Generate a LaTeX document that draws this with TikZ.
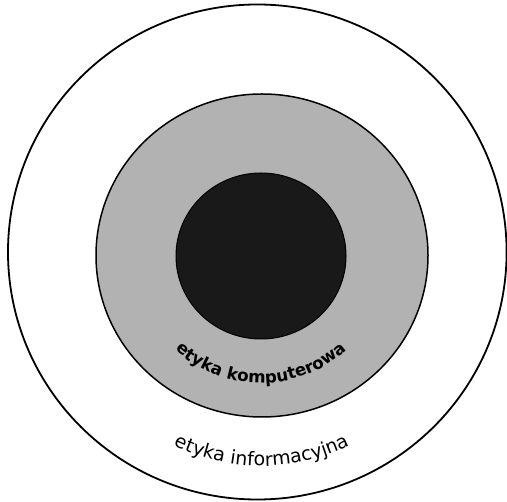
\documentclass[tikz,border=0pt]{standalone}
\usepackage{fontspec}
\newfontfamily\dvs{DejaVu Sans}
\usetikzlibrary{decorations.text}
\begin{document}
\begin{tikzpicture}[x=1bp,y=1bp,
  ring/.style={draw=black,line width=1.8bp},
  curvetext/.style={decorate,decoration={text along path,text align=center,text={#1}}}]
\useasboundingbox (0,0) rectangle (507,502);
% outer circle
\draw[ring,fill=white] (257.3,250) ellipse [x radius=249.3,y radius=247.5];
% middle circle
\draw[ring,line width=1.5bp,fill=black!30] (262,246.5) ellipse [x radius=166,y radius=161.5];
% inner circle
\draw[line width=1bp,fill=black!90] (261,246) ellipse [x radius=85,y radius=83];
% curved labels
\path[curvetext={|\dvs\bfseries\fontsize{16.8}{16.8}\selectfont|etyka komputerowa}]
  (261,246) ++(200:127) arc[start angle=200,end angle=340,radius=127];
\path[curvetext={|\dvs\fontsize{19}{19}\selectfont|etyka informacyjna}]
  (262,236) ++(210:200) arc[start angle=210,end angle=330,radius=200];
\end{tikzpicture}
\end{document}
